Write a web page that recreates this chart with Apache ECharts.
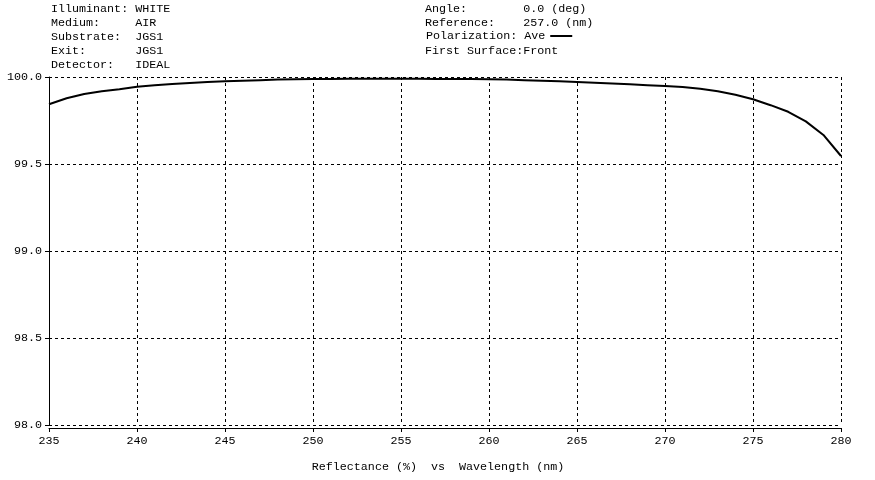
<!DOCTYPE html>
<html>
<head>
<meta charset="utf-8">
<script src="https://cdn.jsdelivr.net/npm/echarts@6/dist/echarts.min.js"></script>
<style>html,body{margin:0;padding:0;background:#fff;}#c{width:875px;height:480px;}</style>
</head>
<body>
<div id="c"></div>
<script>
var wavelengths = [235,236,237,238,239,240,241,242,243,244,245,246,247,248,249,250,251,252,253,254,255,256,257,258,259,260,261,262,263,264,265,266,267,268,269,270,271,272,273,274,275,276,277,278,279,280];
var reflectance = [99.843,99.878,99.902,99.918,99.930,99.944,99.952,99.960,99.966,99.971,99.975,99.979,99.982,99.985,99.987,99.988,99.989,99.990,99.990,99.990,99.990,99.990,99.989,99.989,99.988,99.987,99.985,99.982,99.979,99.975,99.971,99.967,99.963,99.958,99.953,99.948,99.943,99.932,99.918,99.898,99.872,99.838,99.800,99.745,99.667,99.546];
var headerLeft = ["Illuminant: WHITE","Medium:     AIR","Substrate:  JGS1","Exit:       JGS1","Detector:   IDEAL"];
var headerRight = ["Angle:        0.0 (deg)","Reference:    257.0 (nm)","","First Surface:Front"];
var seriesName = "Ave";
var xTitle = "Reflectance (%)  vs  Wavelength (nm)";

var FONT = '"Liberation Mono", "DejaVu Sans Mono", monospace';
var FS = 11.7;
var chart = echarts.init(document.getElementById('c'), null, {renderer:'canvas'});
var graphics = [];
headerLeft.forEach(function(t,i){
  graphics.push({type:'text', left:51, top:3+i*14, style:{text:t, font:FS+'px '+FONT, fill:'#000'}});
});
headerRight.forEach(function(t,i){
  if(t) graphics.push({type:'text', left:425, top:3+i*14, style:{text:t, font:FS+'px '+FONT, fill:'#000'}});
});
var pts = wavelengths.map(function(w,i){return [w, reflectance[i]];});
chart.setOption({
  animation:false,
  backgroundColor:'#fff',
  grid:{left:49, right:34, top:77, bottom:55, containLabel:false},
  legend:{
    data:[{name:seriesName, icon:'rect'}],
    left:426, top:30, align:'right', itemWidth:22, itemHeight:2, itemGap:0, padding:0,
    formatter:function(n){return 'Polarization: '+n;},
    textStyle:{fontFamily:FONT, fontSize:FS, color:'#000', padding:[0,0,0,0]}
  },
  graphic:graphics,
  xAxis:{
    type:'value', min:235, max:280, interval:5, offset:3,
    name:xTitle, nameLocation:'middle', nameGap:33,
    nameTextStyle:{fontFamily:FONT, fontSize:FS, color:'#000', padding:[0,14,0,0]},
    axisLine:{show:true, lineStyle:{color:'#000', width:1}},
    axisTick:{show:true, inside:false, length:4, lineStyle:{color:'#000'}},
    axisLabel:{margin:7, fontFamily:FONT, fontSize:FS, color:'#000'},
    splitLine:{show:true, lineStyle:{color:'#000', type:[3,3], width:1}}
  },
  yAxis:{
    type:'value', min:98.0, max:100.0, interval:0.5,
    axisLine:{show:true, lineStyle:{color:'#000', width:1}},
    axisTick:{show:true, inside:false, length:4, lineStyle:{color:'#000'}},
    axisLabel:{margin:7, fontFamily:FONT, fontSize:FS, color:'#000', formatter:function(v){return v.toFixed(1);}},
    splitLine:{show:true, lineStyle:{color:'#000', type:[3,3], width:1}}
  },
  series:[{
    name:seriesName, type:'line', data:pts, showSymbol:false, symbol:'none', smooth:false,
    lineStyle:{color:'#000', width:2}, itemStyle:{color:'#000'}
  }]
});
</script>
</body>
</html>
